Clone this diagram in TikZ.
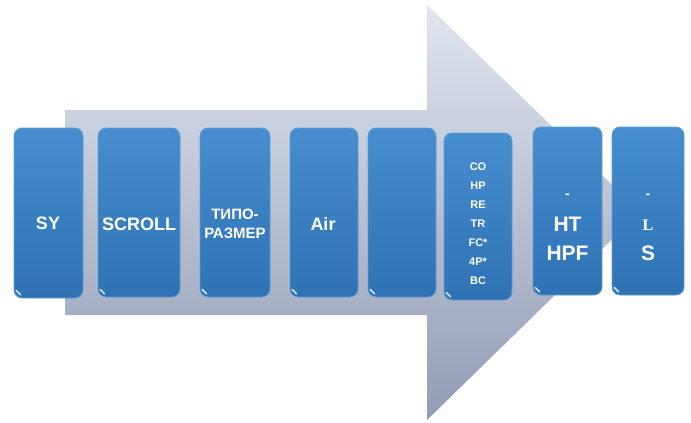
\documentclass[tikz,border=0pt]{standalone}
\usepackage{fontspec}
\setmainfont{Liberation Sans}
\newfontfamily\serifL{Liberation Serif}
\definecolor{arrtop}{RGB}{224,229,238}
\definecolor{arrbot}{RGB}{145,156,182}
\definecolor{boxtop}{RGB}{70,142,207}
\definecolor{boxbot}{RGB}{46,114,180}
\definecolor{boxedge}{RGB}{98,156,212}
\begin{document}
\begin{tikzpicture}[x=1pt,y=-1pt,
  box/.style={draw=boxedge, line width=0.8pt, rounded corners=8pt,
    top color=boxtop, bottom color=boxbot, inner sep=0pt},
  lbl/.style={text=white, font=\bfseries\fontsize{18}{18}\selectfont, inner sep=0pt},
  small/.style={text=white, font=\bfseries\fontsize{11}{11}\selectfont, inner sep=0pt},
  big/.style={text=white, font=\bfseries\fontsize{21}{21}\selectfont, inner sep=0pt},
  dashlbl/.style={text=white, font=\bfseries\fontsize{14}{14}\selectfont, inner sep=0pt},
  shine/.style={draw=white, opacity=0.8, line width=1.6pt, line cap=round}]
\useasboundingbox (0,0) rectangle (691,423);
% big arrow
\path[top color=arrtop, bottom color=arrbot]
  (65,110) -- (427,110) -- (427,5) -- (640,212) -- (427,420) -- (427,315) -- (65,315) -- cycle;
% boxes
\node[box, minimum width=69pt, minimum height=170pt] (sy) at (48.5,213) {};
\node[box, minimum width=82pt, minimum height=169pt] (scroll) at (139,212.5) {};
\node[box, minimum width=70pt, minimum height=169pt] (tipo) at (235,212.5) {};
\node[box, minimum width=68pt, minimum height=169pt] (air) at (324,212.5) {};
\node[box, minimum width=68pt, minimum height=169pt] (empty) at (402,212.5) {};
\node[box, minimum width=68pt, minimum height=167pt] (list) at (478,216.5) {};
\node[box, minimum width=69pt, minimum height=168pt] (ht) at (567.5,211) {};
\node[box, minimum width=72pt, minimum height=168pt] (ls) at (648,211) {};
% corner highlights
\foreach \b in {sy,scroll,tipo,air,empty,list,ht,ls}{
  \draw[shine] ([shift={(2.5,-8)}]\b.south west) -- ([shift={(7,-3.5)}]\b.south west);
}
% labels
\node[lbl] (tsy) at (48,223) {SY};
\node[lbl] (tscroll) at (139,224) {SCROLL};
\node[text=white, font=\bfseries\fontsize{15}{19}\selectfont, align=center, inner sep=0pt] (ttipo) at (235,224) {ТИПО-\\РАЗМЕР};
\node[lbl] (tair) at (323,224) {Air};
\node[small, align=center, font=\bfseries\fontsize{11}{19}\selectfont] (tlist) at (478,224)
  {CO\\HP\\RE\\TR\\FC*\\4P*\\BC};
\node[dashlbl] (thd) at (567.5,196) {-};
\node[big] (tht) at (567.5,224) {HT};
\node[big] (thpf) at (567.5,253) {HPF};
\node[dashlbl] (tld) at (648,196) {-};
\node[text=white, font=\serifL\bfseries\fontsize{16}{16}\selectfont, inner sep=0pt] (tl) at (648,225) {L};
\node[big] (ts) at (648,253) {S};
\end{tikzpicture}
\end{document}
